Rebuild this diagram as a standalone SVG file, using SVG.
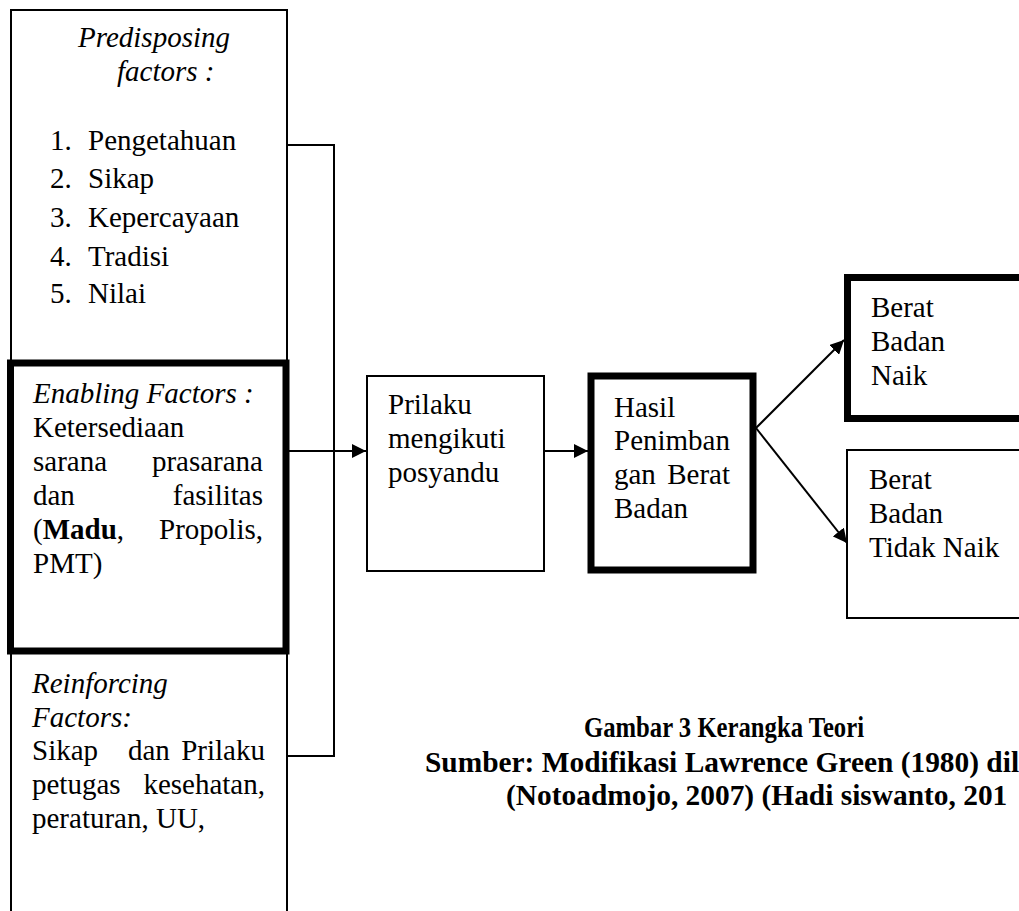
<svg xmlns="http://www.w3.org/2000/svg" width="1019" height="911" viewBox="0 0 1019 911">
<style>
  text { font-family: "Liberation Serif", "Times New Roman", serif; font-size: 29px; fill: #000; }
  .it { font-style: italic; }
  .b { font-weight: bold; }
  .thin { fill: #fff; stroke: #000; stroke-width: 2; }
  .thick { fill: #fff; stroke: #000; stroke-width: 7; }
  .line { fill: none; stroke: #000; stroke-width: 2; }
  .cap { font-weight: bold; font-size: 29.4px; }
</style>
<defs>
  <marker id="arr" viewBox="0 0 14 14" refX="14" refY="7" markerWidth="14" markerHeight="14" markerUnits="userSpaceOnUse" orient="auto">
    <path d="M0,0 L14,7 L0,14 Z" fill="#000"/>
  </marker>
</defs>
<rect width="1019" height="911" fill="#fff"/>

<g id="predisposing">
  <rect class="thin" x="11" y="10" width="276" height="353"/>
  <text class="it" x="78" y="47">Predisposing</text>
  <text class="it" x="117" y="81">factors :</text>
  <text x="50" y="150">1.</text><text x="88" y="150">Pengetahuan</text>
  <text x="50" y="188">2.</text><text x="88" y="188">Sikap</text>
  <text x="50" y="227">3.</text><text x="88" y="227">Kepercayaan</text>
  <text x="50" y="266">4.</text><text x="88" y="266">Tradisi</text>
  <text x="50" y="303">5.</text><text x="88" y="303">Nilai</text>
</g>

<g id="reinforcing">
  <rect class="thin" x="11" y="651" width="276" height="280"/>
  <text class="it" x="32" y="693">Reinforcing</text>
  <text class="it" x="32" y="727">Factors:</text>
  <text x="32" y="760">Sikap</text>
  <text x="128" y="760">dan</text>
  <text x="265" y="760" text-anchor="end">Prilaku</text>
  <text x="32" y="794">petugas</text>
  <text x="265" y="794" text-anchor="end">kesehatan,</text>
  <text x="32" y="828">peraturan, UU,</text>
</g>

<g id="enabling">
  <rect class="thick" x="10.5" y="363" width="275.5" height="288"/>
  <text class="it" x="33" y="403">Enabling Factors :</text>
  <text x="33" y="437">Ketersediaan</text>
  <text x="33" y="471">sarana</text>
  <text x="263" y="471" text-anchor="end">prasarana</text>
  <text x="33" y="505">dan</text>
  <text x="263" y="505" text-anchor="end">fasilitas</text>
  <text x="33" y="539">(<tspan class="b">Madu</tspan>,</text>
  <text x="263" y="539" text-anchor="end">Propolis,</text>
  <text x="33" y="573">PMT)</text>
</g>

<g id="prilaku">
  <rect class="thin" x="367" y="376" width="177" height="195"/>
  <text x="388" y="414">Prilaku</text>
  <text x="388" y="448">mengikuti</text>
  <text x="388" y="482">posyandu</text>
</g>

<g id="hasil">
  <rect class="thick" x="591" y="376" width="162" height="194"/>
  <text x="614" y="417">Hasil</text>
  <text x="614" y="450">Penimban</text>
  <text x="614" y="484">gan</text>
  <text x="730" y="484" text-anchor="end">Berat</text>
  <text x="614" y="518">Badan</text>
</g>

<g id="naik">
  <rect class="thick" x="847.5" y="277.5" width="200" height="141"/>
  <text x="871" y="317">Berat</text>
  <text x="871" y="351">Badan</text>
  <text x="871" y="385">Naik</text>
</g>

<g id="tidak-naik">
  <rect class="thin" x="847" y="450" width="200" height="168"/>
  <text x="869" y="489">Berat</text>
  <text x="869" y="523">Badan</text>
  <text x="869" y="557">Tidak Naik</text>
</g>

<g id="connectors">
  <polyline class="line" points="287,145 334,145 334,756 287,756"/>
  <line class="line" x1="287" y1="451" x2="366" y2="451" marker-end="url(#arr)"/>
  <line class="line" x1="544" y1="451" x2="588" y2="451" marker-end="url(#arr)"/>
  <line class="line" x1="756" y1="428" x2="844" y2="340" marker-end="url(#arr)"/>
  <line class="line" x1="756" y1="428" x2="847" y2="543" marker-end="url(#arr)"/>
</g>

<g id="caption">
  <text class="cap" transform="translate(584,737) scale(0.84,1)">Gambar 3 Kerangka Teori</text>
  <text class="cap" x="425" y="772">Sumber: Modifikasi Lawrence Green (1980) dil</text>
  <text class="cap" x="506" y="805">(Notoadmojo, 2007) (Hadi siswanto, 201</text>
</g>
</svg>
